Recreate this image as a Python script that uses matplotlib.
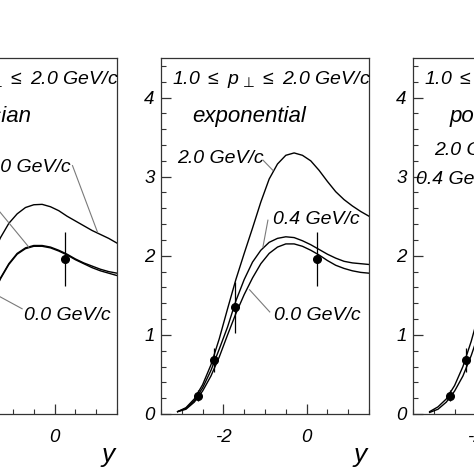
import matplotlib
matplotlib.use("Agg")
from matplotlib import pyplot as plt
from matplotlib.ticker import MultipleLocator

plt.rcParams['font.family'] = ['Liberation Sans', 'DejaVu Sans']
plt.rcParams['font.style'] = 'italic'
plt.rcParams['mathtext.fontset'] = 'custom'
plt.rcParams['mathtext.rm'] = 'Liberation Sans:italic'
plt.rcParams['mathtext.it'] = 'Liberation Sans:italic'
plt.rcParams['mathtext.sf'] = 'DejaVu Sans'
plt.rcParams['axes.unicode_minus'] = False

# измеренные точки
pt_y = [-2.62, -2.22, -1.71, 0.24]
pt_val = [0.23, 0.68, 1.35, 1.96]
pt_err = [0.07, 0.15, 0.32, 0.34]

# gaussian (видна только правая часть)
gauss_x = [-1.5, -1.3, -1.1, -0.9, -0.7, -0.5, -0.3, -0.1, 0.1, 0.3, 0.5, 0.7, 0.9, 1.1, 1.3, 1.5]
gauss_20 = [2.00, 2.23, 2.41, 2.53, 2.61, 2.645, 2.65, 2.62, 2.57, 2.50, 2.44, 2.38, 2.32, 2.27, 2.22, 2.16]
gauss_04 = [1.50, 1.72, 1.90, 2.03, 2.10, 2.13, 2.13, 2.11, 2.07, 2.02, 1.96, 1.91, 1.87, 1.83, 1.80, 1.78]
gauss_00 = [1.49, 1.71, 1.89, 2.02, 2.09, 2.12, 2.12, 2.10, 2.06, 2.01, 1.95, 1.90, 1.85, 1.81, 1.78, 1.75]

# exponential
exp_x = [-3.1, -2.9, -2.7, -2.5, -2.3, -2.1, -1.9, -1.7, -1.5, -1.3, -1.1, -0.9,
         -0.7, -0.5, -0.3, -0.1, 0.1, 0.3, 0.5, 0.7, 0.9, 1.1, 1.3, 1.5]
exp_20 = [0.03, 0.08, 0.19, 0.37, 0.62, 0.95, 1.33, 1.70, 2.03, 2.35, 2.68, 2.97,
          3.16, 3.27, 3.30, 3.27, 3.20, 3.08, 2.94, 2.81, 2.71, 2.63, 2.56, 2.50]
exp_04 = [0.03, 0.07, 0.17, 0.33, 0.55, 0.82, 1.10, 1.43, 1.70, 1.92, 2.07, 2.17,
          2.22, 2.24, 2.23, 2.19, 2.14, 2.08, 2.02, 1.97, 1.93, 1.91, 1.90, 1.89]
exp_00 = [0.03, 0.06, 0.15, 0.29, 0.48, 0.72, 1.00, 1.27, 1.51, 1.72, 1.90, 2.03,
          2.11, 2.15, 2.15, 2.12, 2.07, 2.01, 1.94, 1.88, 1.84, 1.81, 1.79, 1.78]

# power law (видна только левая часть)
pow_x = [-3.1, -2.9, -2.7, -2.5, -2.3, -2.1, -1.9]
pow_20 = [0.03, 0.09, 0.19, 0.36, 0.60, 0.92, 1.30]
pow_04 = [0.02, 0.06, 0.15, 0.29, 0.48, 0.74, 1.05]

title = r'$1.0\ \leq\ p_{\,\mathsf{\bot}}\,\leq$ 2.0 GeV/c'
FS = 14
GRAY = '#7a7a7a'


def setup(ax):
    ax.set_xlim(-3.5, 1.5)
    ax.set_ylim(0, 4.5)
    ax.xaxis.set_major_locator(MultipleLocator(2))
    ax.xaxis.set_minor_locator(MultipleLocator(0.5))
    ax.yaxis.set_major_locator(MultipleLocator(1))
    ax.yaxis.set_minor_locator(MultipleLocator(0.2))
    ax.tick_params(which='both', direction='in', top=False, right=False,
                   labelsize=13.5, color='#333333')
    ax.tick_params(which='major', length=7, width=0.9)
    ax.tick_params(which='minor', length=3.3, width=0.8)
    ax.tick_params(axis='x', pad=11)
    ax.tick_params(axis='y', pad=4.5)
    for s in ax.spines.values():
        s.set_linewidth(0.9)
        s.set_color('#333333')
    ax.text(0.051, 0.927, title, transform=ax.transAxes, fontsize=14)
    ax.text(0.957, -0.115, 'y', transform=ax.transAxes, fontsize=19,
            ha='center', va='center')
    ax.errorbar(pt_y, pt_val, yerr=pt_err, fmt='o', color='black',
                ms=5.5, elinewidth=0.9, capsize=0, zorder=5)


def curves(ax, x, ys):
    for v in ys:
        ax.plot(x, v, color='black', lw=1.0)


def leader(ax, x0, y0, x1, y1):
    ax.plot([x0, x1], [y0, y1], color=GRAY, lw=0.8)


fig = plt.figure(figsize=(4.74, 4.74), dpi=100)
w = 208 / 474
h = 356 / 474
b = 60 / 474

ax1 = fig.add_axes([-91 / 474, b, w, h])
setup(ax1)
curves(ax1, gauss_x, [gauss_20, gauss_04, gauss_00])
ax1.text(0.591, 0.82, 'Gaussian', transform=ax1.transAxes, fontsize=16, ha='right')
ax1.text(0.387, 3.06, '2.0 GeV/c', fontsize=FS, ha='right')
leader(ax1, 0.43, 3.14, 1.03, 2.30)
ax1.text(-1.52, 2.70, '0.4 GeV/c', fontsize=FS, ha='right')
leader(ax1, -1.45, 2.64, -0.62, 2.11)
ax1.text(-0.74, 1.185, '0.0 GeV/c', fontsize=FS)
leader(ax1, -0.78, 1.33, -1.48, 1.53)

ax2 = fig.add_axes([161 / 474, b, w, h])
setup(ax2)
curves(ax2, exp_x, [exp_20, exp_04, exp_00])
ax2.text(0.148, 0.82, 'exponential', transform=ax2.transAxes, fontsize=16)
ax2.text(-3.11, 3.17, '2.0 GeV/c', fontsize=FS)
leader(ax2, -1.05, 3.21, -0.81, 3.08)
ax2.text(-0.81, 2.40, '0.4 GeV/c', fontsize=FS)
leader(ax2, -0.93, 2.45, -1.05, 2.11)
ax2.text(-0.79, 1.185, '0.0 GeV/c', fontsize=FS)
leader(ax2, -0.886, 1.29, -1.37, 1.57)

ax3 = fig.add_axes([413 / 474, b, w, h])
setup(ax3)
curves(ax3, pow_x, [pow_20, pow_04])
ax3.text(0.178, 0.82, 'power law', transform=ax3.transAxes, fontsize=16)
ax3.text(-2.99, 3.27, '2.0 GeV/c', fontsize=FS)
ax3.text(-3.43, 2.91, '0.4 GeV/c', fontsize=FS)

fig.savefig('out.png', dpi=100)
